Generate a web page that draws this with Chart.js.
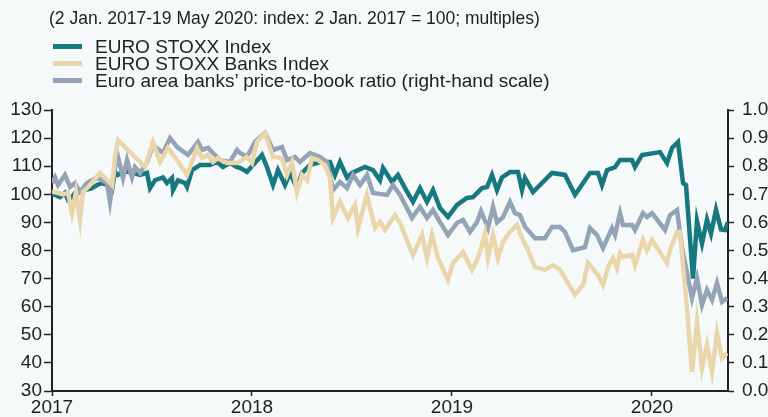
<!DOCTYPE html>
<html>
<head>
<meta charset="utf-8">
<script src="https://cdn.jsdelivr.net/npm/chart.js@4"></script>
<style>
  body { margin: 0; background: #f5f9fa; font-family: "Liberation Sans", Arial, sans-serif; color: #222; }
  #wrap { position: relative; width: 768px; height: 417px; }
  #chart { position: absolute; left: 0; top: 0; }
  .txt { position: absolute; font-size: 19px; line-height: 17px; white-space: nowrap; }
  .sw { position: absolute; left: 53px; width: 29px; height: 5px; }
</style>
</head>
<body>
<div id="wrap">
  <canvas id="chart" width="768" height="417"></canvas>
  <div class="txt" style="left:49px; top:10px; font-size:17.5px;">(2 Jan. 2017-19 May 2020: index: 2 Jan. 2017 = 100; multiples)</div>
  <div id="legend"></div>
</div>
<script>
// dates in decimal years
const stoxxDates = [2017.000, 2017.015, 2017.040, 2017.065, 2017.080, 2017.100, 2017.115, 2017.165, 2017.200, 2017.225,
  2017.250, 2017.275, 2017.300, 2017.315, 2017.330, 2017.355, 2017.380, 2017.405, 2017.440, 2017.475,
  2017.490, 2017.515, 2017.555, 2017.575, 2017.600, 2017.605, 2017.630, 2017.665, 2017.675, 2017.700,
  2017.740, 2017.790, 2017.825, 2017.855, 2017.890, 2017.925, 2017.940, 2017.975, 2018.005, 2018.050,
  2018.075, 2018.105, 2018.130, 2018.165, 2018.190, 2018.225, 2018.250, 2018.290, 2018.340, 2018.390,
  2018.415, 2018.440, 2018.475, 2018.500, 2018.565, 2018.605, 2018.640, 2018.655, 2018.700, 2018.730,
  2018.765, 2018.805, 2018.840, 2018.875, 2018.905, 2018.940, 2018.980, 2019.025, 2019.075, 2019.105,
  2019.150, 2019.175, 2019.200, 2019.225, 2019.250, 2019.290, 2019.330, 2019.350, 2019.365, 2019.405,
  2019.500, 2019.565, 2019.615, 2019.690, 2019.730, 2019.750, 2019.775, 2019.815, 2019.840, 2019.900,
  2019.915, 2019.950, 2020.040, 2020.075, 2020.100, 2020.130, 2020.155, 2020.170, 2020.205, 2020.225,
  2020.250, 2020.275, 2020.295, 2020.320, 2020.345, 2020.365, 2020.380];
const stoxxValues = [100, 99.8, 99, 100.5, 98, 99, 100.5, 101.5, 102.2, 103.3,
  104, 103.3, 101.5, 108, 106.9, 108, 108, 107.6, 106.9, 107.6,
  102.2, 105, 106, 104, 105.8, 101.5, 105, 104, 102.6, 108.6,
  110.4, 110.4, 111.5, 109.7, 111.1, 109.7, 109.4, 108, 110.4, 114,
  109.7, 103.3, 108.6, 103.3, 107.6, 102.2, 107.6, 110.4, 111.5, 111.5,
  106.9, 111.5, 106, 107.6, 109.7, 108.6, 105, 109.4, 104.4, 106.9,
  102.2, 97.3, 102.2, 97.3, 101.5, 95.1, 91.9, 96.2, 98.7, 99,
  102.2, 102.6, 106.9, 101.5, 106, 107.9, 107.9, 101.5, 105.8, 100.8,
  107.6, 106.9, 99.8, 107.6, 107.6, 103.3, 108.6, 109.7, 112.2, 112.2,
  109.7, 114, 115, 111.1, 116.5, 118.6, 104, 103.3, 70, 90.5,
  82.5, 91, 86, 94.5, 87.5, 87.3, 90];

const banksDates = [2017.000, 2017.055, 2017.080, 2017.100, 2017.120, 2017.140, 2017.155, 2017.190, 2017.240, 2017.300,
  2017.315, 2017.330, 2017.390, 2017.440, 2017.465, 2017.505, 2017.540, 2017.580, 2017.625, 2017.675,
  2017.700, 2017.725, 2017.750, 2017.780, 2017.805, 2017.830, 2017.875, 2017.925, 2017.975, 2018.000,
  2018.025, 2018.065, 2018.105, 2018.150, 2018.175, 2018.200, 2018.225, 2018.250, 2018.275, 2018.300,
  2018.330, 2018.365, 2018.390, 2018.405, 2018.440, 2018.480, 2018.515, 2018.530, 2018.575, 2018.615,
  2018.640, 2018.665, 2018.715, 2018.740, 2018.805, 2018.850, 2018.875, 2018.900, 2018.930, 2018.980,
  2019.005, 2019.055, 2019.100, 2019.125, 2019.140, 2019.165, 2019.180, 2019.205, 2019.230, 2019.255,
  2019.290, 2019.325, 2019.350, 2019.375, 2019.415, 2019.465, 2019.505, 2019.540, 2019.615, 2019.655,
  2019.680, 2019.730, 2019.755, 2019.780, 2019.805, 2019.825, 2019.840, 2019.855, 2019.900, 2019.915,
  2019.955, 2019.975, 2020.000, 2020.075, 2020.090, 2020.125, 2020.140, 2020.175, 2020.200, 2020.225,
  2020.250, 2020.275, 2020.300, 2020.325, 2020.350, 2020.375];
const banksValues = [101, 100, 100.5, 93.3, 100.8, 90.9, 100.8, 103.3, 107.6, 103.3,
  113.3, 119.3, 115, 111.5, 109.7, 118.6, 111.5, 116.5, 112.2, 106.9,
  111.5, 116.5, 112.9, 114, 111.5, 112.9, 111.1, 111.1, 113.3, 111.1,
  118.6, 121.8, 113.3, 112.9, 106.9, 111.5, 100.8, 106.9, 105, 112.9,
  112.2, 110.4, 105.8, 91.6, 97.3, 91.6, 96.2, 88, 99.8, 88,
  90.1, 87.3, 92.6, 89.8, 78.4, 85.5, 77.3, 85.5, 77.3, 69.5,
  75.6, 79.5, 73.1, 76.6, 79.5, 86, 77.3, 85.5, 77.3, 83,
  86.6, 89.1, 84.4, 80.9, 74.1, 73.1, 74.8, 73.1, 64.2, 67.7,
  75.6, 71.3, 67.7, 74.1, 77.3, 73.8, 79.1, 77.7, 78.4, 74.8,
  83.7, 80.1, 83.7, 75.6, 80.1, 86.6, 86.6, 59.5, 36.8, 54.6,
  38.2, 46.4, 36.8, 50.6, 41.7, 43.5];

const pbDates = [2017.000, 2017.015, 2017.030, 2017.065, 2017.090, 2017.115, 2017.140, 2017.175, 2017.225, 2017.275,
  2017.290, 2017.315, 2017.330, 2017.355, 2017.375, 2017.400, 2017.415, 2017.440, 2017.475, 2017.505,
  2017.555, 2017.590, 2017.630, 2017.680, 2017.730, 2017.750, 2017.780, 2017.840, 2017.890, 2017.925,
  2017.940, 2017.975, 2018.015, 2018.065, 2018.105, 2018.150, 2018.175, 2018.215, 2018.240, 2018.290,
  2018.340, 2018.375, 2018.405, 2018.440, 2018.475, 2018.505, 2018.540, 2018.575, 2018.605, 2018.675,
  2018.705, 2018.740, 2018.800, 2018.840, 2018.875, 2018.905, 2018.940, 2018.980, 2019.025, 2019.055,
  2019.090, 2019.125, 2019.145, 2019.180, 2019.205, 2019.225, 2019.255, 2019.290, 2019.315, 2019.340,
  2019.365, 2019.415, 2019.465, 2019.500, 2019.540, 2019.565, 2019.605, 2019.665, 2019.690, 2019.725,
  2019.755, 2019.800, 2019.815, 2019.840, 2019.855, 2019.900, 2019.915, 2019.955, 2019.975, 2020.000,
  2020.065, 2020.090, 2020.125, 2020.150, 2020.200, 2020.225, 2020.250, 2020.275, 2020.300, 2020.325,
  2020.350, 2020.375];
const pbValues = [0.74, 0.76, 0.733, 0.769, 0.726, 0.74, 0.708, 0.74, 0.76, 0.74,
  0.673, 0.797, 0.833, 0.758, 0.822, 0.76, 0.797, 0.776, 0.815, 0.875,
  0.847, 0.90, 0.865, 0.84, 0.886, 0.858, 0.865, 0.822, 0.815, 0.858,
  0.847, 0.833, 0.886, 0.918, 0.858, 0.868, 0.822, 0.833, 0.815, 0.847,
  0.833, 0.815, 0.715, 0.744, 0.722, 0.769, 0.733, 0.769, 0.705, 0.698,
  0.733, 0.698, 0.616, 0.655, 0.616, 0.644, 0.601, 0.555, 0.598, 0.609,
  0.566, 0.601, 0.64, 0.58, 0.655, 0.60, 0.619, 0.673, 0.633, 0.626,
  0.584, 0.544, 0.544, 0.584, 0.584, 0.566, 0.501, 0.512, 0.58, 0.555,
  0.509, 0.58, 0.555, 0.633, 0.591, 0.591, 0.573, 0.633, 0.619, 0.633,
  0.573, 0.626, 0.644, 0.51, 0.331, 0.402, 0.306, 0.36, 0.324, 0.384,
  0.317, 0.331];

const xTicks = [2017, 2018, 2019, 2020];
const seriesNames = ['EURO STOXX Index', 'EURO STOXX Banks Index', 'Euro area banks\u2019 price-to-book ratio (right-hand scale)'];
const seriesColors = ['#17787f', '#e9d6aa', '#94a3b5'];

const toPoints = (xs, ys) => xs.map((x, i) => ({ x: x, y: ys[i] }));

// html legend, one item per row
const legend = document.getElementById('legend');
seriesNames.forEach((name, i) => {
  const top = 38 + i * 17;
  legend.insertAdjacentHTML('beforeend',
    `<div class="sw" style="top:${top + 6}px;background:${seriesColors[i]}"></div>` +
    `<div class="txt" style="left:95px;top:${top}px">${name}</div>`);
});

const tickFont = { family: '"Liberation Sans", Arial, sans-serif', size: 19 };
const axisColor = '#222';

new Chart(document.getElementById('chart'), {
  type: 'line',
  data: {
    datasets: [
      { label: seriesNames[0], data: toPoints(stoxxDates, stoxxValues), borderColor: seriesColors[0], yAxisID: 'y', order: 3 },
      { label: seriesNames[1], data: toPoints(banksDates, banksValues), borderColor: seriesColors[1], yAxisID: 'y', order: 1 },
      { label: seriesNames[2], data: toPoints(pbDates, pbValues), borderColor: seriesColors[2], yAxisID: 'y1', order: 2 }
    ]
  },
  options: {
    responsive: false,
    animation: false,
    layout: { padding: { top: 110, left: 0, right: 0, bottom: 0 } },
    elements: {
      line: { borderWidth: 4.5, tension: 0, borderJoinStyle: 'miter' },
      point: { radius: 0 }
    },
    plugins: { legend: { display: false }, tooltip: { enabled: false } },
    scales: {
      x: {
        type: 'linear',
        min: 2017,
        max: 2020.38,
        afterBuildTicks: s => { s.ticks = xTicks.map(v => ({ value: v })); },
        afterFit: s => { s.height = 26; },
        grid: { drawOnChartArea: false, tickLength: 5, tickColor: axisColor, tickWidth: 1.5 },
        border: { color: axisColor, width: 2 },
        ticks: { font: tickFont, color: axisColor, padding: 0, maxRotation: 0, autoSkip: false, callback: v => String(v) }
      },
      y: {
        position: 'left',
        min: 30,
        max: 130,
        afterFit: s => { s.width = 52; },
        grid: { drawOnChartArea: false, tickLength: 8, tickColor: axisColor, tickWidth: 1.5 },
        border: { color: axisColor, width: 2 },
        ticks: { font: tickFont, color: axisColor, stepSize: 10, padding: 2 }
      },
      y1: {
        position: 'right',
        min: 0,
        max: 1,
        afterFit: s => { s.width = 40; },
        grid: { drawOnChartArea: false, tickLength: 6, tickColor: axisColor, tickWidth: 1.5 },
        border: { color: axisColor, width: 2 },
        ticks: { font: tickFont, color: axisColor, stepSize: 0.1, padding: 8, callback: v => v.toFixed(1) }
      }
    }
  }
});
</script>
</body>
</html>
